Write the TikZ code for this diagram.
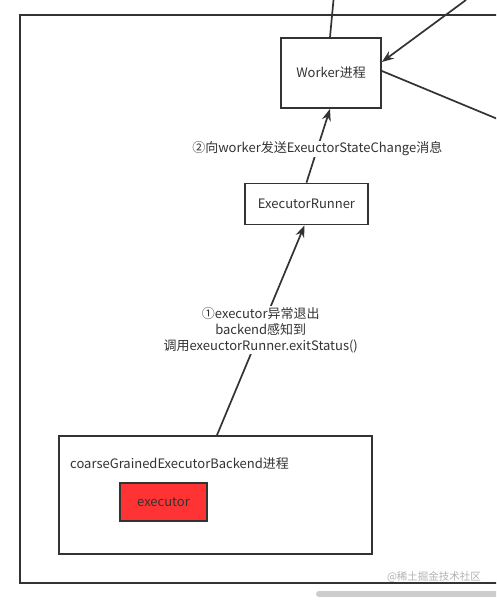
\documentclass[tikz,border=0pt]{standalone}
\usepackage{fontspec}
\setmainfont{Noto Sans CJK SC}
\usetikzlibrary{arrows.meta,positioning}
\definecolor{textgray}{HTML}{333333}
\definecolor{execred}{HTML}{FF3333}
\tikzset{
    box/.style={draw=textgray,line width=1.8pt,minimum width=#1,inner sep=0pt},
    box/.default=100pt,
    link/.style={line width=1.7pt,draw=textgray,-{Stealth[length=12pt,width=9pt]}},
    lbl/.style={font=\fontsize{13}{16}\selectfont,text=textgray,align=center}
}
\begin{document}
\begin{tikzpicture}[x=1pt,y=1pt]
                \useasboundingbox (0,0) rectangle (496,600);
                \clip (0,0) rectangle (496,600);
                \fill[white] (0,0) rectangle (496,600);
                % outer frame
                \draw[line width=1.7pt,textgray] (500,585)--(20,585)--(20,17)--(500,17);
                % nodes
                \node[box=100pt,minimum height=70pt,lbl] (worker) at (331,527) {Worker进程};
                \node[box=123pt,minimum height=41pt,lbl] (runner) at (306.5,396) {ExecutorRunner};
                \node[box=313pt,minimum height=118pt] (backend) at (215.5,105) {};
                \node[lbl,anchor=west,inner sep=0pt] (backendtxt) at (70,136) {coarseGrainedExecutorBackend进程};
                \node[box=87pt,minimum height=38pt,fill=execred,lbl] (exec) at (163.5,98) {executor};
                % free ends
                \coordinate (topa) at (333.5,600);
                \coordinate (topb) at (466,600);
                \coordinate (rightc) at (500,480);
                % connectors
                \draw[line width=1.7pt,textgray] (topa) -- ([xshift=-1pt]worker.north);
                \draw[link] (topb) -- ([yshift=11pt]worker.east);
                \draw[line width=1.7pt,textgray] ([yshift=2pt]worker.east) -- (rightc);
                \draw[link] (runner.north) -- ([xshift=-1pt]worker.south) node[lbl,pos=0.46,fill=white,inner sep=1pt] (msg2) {②向worker发送ExeuctorStateChange消息};
                \draw[link] ([xshift=1.5pt]backend.north) -- ([xshift=-2pt]runner.south) node[lbl,pos=0.5,fill=white,inner sep=1pt] (msg1) {①executor异常退出\\backend感知到\\调用exeuctorRunner.exitStatus()};
                % watermark and scroll bar
                \node[font=\fontsize{10.5}{12}\selectfont,text=black!30] (mark) at (434,23) {@稀土掘金技术社区};
                \draw[line width=6pt,black!20,line cap=round] (319,6) -- (500,6);
\end{tikzpicture}
\end{document}
